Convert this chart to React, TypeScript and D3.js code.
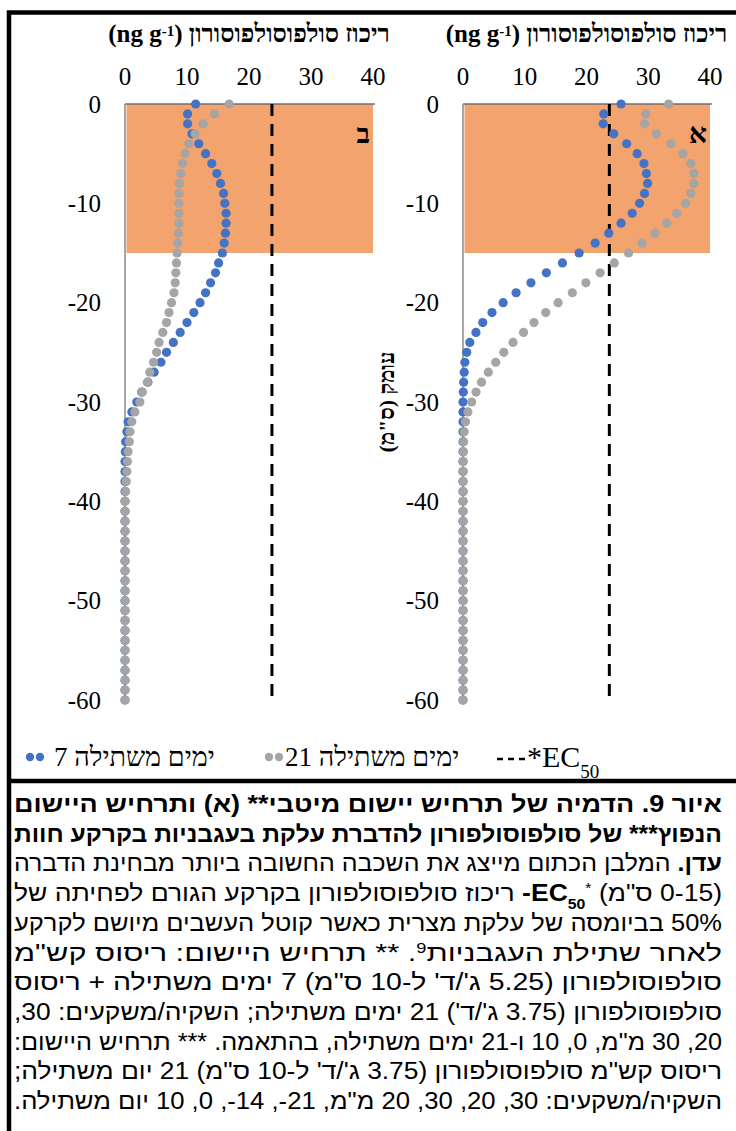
import React, { useEffect, useRef } from 'react';
import * as d3 from 'd3';

// depth below the soil surface (cm)
const depth = [
  0, -1, -2, -3, -4, -5, -6, -7, -8, -9, -10, -11, -12, -13, -14, -15, -16, -17, -18, -19, -20,
  -21, -22, -23, -24, -25, -26, -27, -28, -29, -30, -31, -32, -33, -34, -35, -36, -37, -38, -39, -40,
  -41, -42, -43, -44, -45, -46, -47, -48, -49, -50, -51, -52, -53, -54, -55, -56, -57, -58, -59, -60,
];

// panel א (optimal scenario), ng/g
const optimal7 = [
  25.6, 22.8, 22.7, 24.4, 26.5, 28.2, 29.3, 29.7, 29.9, 29.4, 28.6, 27.4, 25.6, 23.6, 21.4, 18.8,
  16.1, 13.5, 11.0, 8.6, 6.5, 4.7, 3.2, 2.1, 1.1, 0.6, 0.3, 0.2, 0.1, 0.05, 0,
  0, 0, 0, 0, 0, 0, 0, 0, 0, 0, 0, 0, 0, 0, 0, 0, 0, 0, 0, 0, 0, 0, 0, 0, 0, 0, 0, 0, 0, 0,
];
const optimal21 = [
  33.3, 29.6, 29.4, 31.3, 33.7, 35.6, 36.9, 37.4, 37.4, 36.9, 36.0, 34.6, 33.0, 31.1, 29.0, 26.8,
  24.5, 22.2, 19.9, 17.7, 15.4, 13.4, 11.5, 9.8, 8.1, 6.6, 5.3, 4.1, 3.0, 2.1, 1.4,
  0.8, 0.4, 0.2, 0.1, 0.05, 0, 0, 0, 0, 0, 0, 0, 0, 0, 0, 0, 0, 0, 0, 0, 0, 0, 0, 0, 0, 0, 0, 0, 0, 0,
];

// panel ב (common scenario), ng/g
const common7 = [
  11.4, 10.1, 10.1, 10.8, 11.9, 13.0, 14.0, 14.8, 15.4, 15.9, 16.1, 16.3, 16.3, 16.2, 16.0, 15.7,
  15.1, 14.6, 13.8, 13.0, 12.1, 11.1, 10.0, 8.9, 7.8, 6.7, 5.8, 4.7, 3.7, 2.7, 1.9,
  1.1, 0.5, 0.3, 0.1, 0.05, 0, 0, 0, 0, 0, 0, 0, 0, 0, 0, 0, 0, 0, 0, 0, 0, 0, 0, 0, 0, 0, 0, 0, 0, 0,
];
const common21 = [
  16.8, 14.4, 12.6, 11.3, 10.3, 9.7, 9.3, 9.0, 8.8, 8.7, 8.7, 8.7, 8.7, 8.6, 8.5, 8.4,
  8.3, 8.2, 8.1, 7.9, 7.5, 7.1, 6.7, 6.1, 5.5, 5.1, 4.6, 4.0, 3.6, 2.8, 2.4,
  1.6, 1.1, 0.8, 0.7, 0.5, 0.4, 0.3, 0.2, 0.1, 0, 0, 0, 0, 0, 0, 0, 0, 0, 0, 0, 0, 0, 0, 0, 0, 0, 0, 0, 0, 0,
];

const concTicks = [0, 10, 20, 30, 40];
const depthTicks = [0, -10, -20, -30, -40, -50, -60];
const ec50 = 23.7;
const criticalLayer = [0, -15];

const axisTitle = 'ריכוז סולפוסולפוסורון ';
const axisUnit = '(ng g';
const depthTitle = 'עומק (ס"מ)';
const seriesNames = ['7 ימים משתילה', '21 ימים משתילה'];
const panelLetters = ['ב', 'א'];

const captionLines = [
  [{ t: 'איור 9. הדמיה של תרחיש יישום מיטבי** (א) ותרחיש היישום', b: true }],
  [{ t: 'הנפוץ*** של סולפוסולפורון להדברת עלקת בעגבניות בקרקע חוות', b: true }],
  [{ t: 'עדן.', b: true }, { t: ' המלבן הכתום מייצג את השכבה החשובה ביותר מבחינת הדברה' }],
  [
    { t: '(0-15 ס"מ) ' }, { t: '*', sup: true }, { t: 'EC', b: true }, { t: '50', b: true, sub: true },
    { t: '-', b: true }, { t: ' ריכוז סולפוסולפורון בקרקע הגורם לפחיתה של' },
  ],
  [{ t: '50% בביומסה של עלקת מצרית כאשר קוטל העשבים מיושם לקרקע' }],
  [{ t: 'לאחר שתילת העגבניות' }, { t: '9', sup: true }, { t: '. ** תרחיש היישום: ריסוס קש"מ' }],
  [{ t: 'סולפוסולפורון (5.25 ג\'/ד\' ל-10 ס"מ) 7 ימים משתילה + ריסוס' }],
  [{ t: 'סולפוסולפורון (3.75 ג\'/ד\') 21 ימים משתילה; השקיה/משקעים: 30,' }],
  [{ t: '20, 30 מ"מ, 0, 10 ו-21 ימים משתילה, בהתאמה. *** תרחיש היישום:' }],
  [{ t: 'ריסוס קש"מ סולפוסולפורון (3.75 ג\'/ד\' ל-10 ס"מ) 21 יום משתילה;' }],
  [{ t: 'השקיה/משקעים: 30, 20, 30, 20 מ"מ, 21-, 14-, 0, 10 יום משתילה.' }],
];

export default function App() {
  const ref = useRef<SVGSVGElement>(null);

  useEffect(() => {
    const serif = '"Liberation Serif", "Times New Roman", serif';
    const sans = '"Liberation Sans", Arial, sans-serif';
    const blue = '#4472C4';
    const gray = '#A5A5A5';
    const orange = '#F2A36E';

    const svg = d3.select(ref.current);
    svg.selectAll('*').remove();

    // FRAME
    svg.append('rect')
      .attr('x', 9).attr('y', 12.5)
      .attr('width', 760).attr('height', 1140)
      .attr('fill', 'none').attr('stroke', '#000').attr('stroke-width', 4.5);
    svg.append('line')
      .attr('x1', 9).attr('x2', 760).attr('y1', 781).attr('y2', 781)
      .attr('stroke', '#000').attr('stroke-width', 4.5);

    // SCALES
    const y = d3.scaleLinear().domain([-60, 0]).range([700, 104]);

    const panels = [
      { range: [125, 373], s7: common7, s21: common21, letter: panelLetters[0] },
      { range: [463, 710], s7: optimal7, s21: optimal21, letter: panelLetters[1] },
    ];

    panels.forEach(p => {
      const x = d3.scaleLinear().domain([0, 40]).range(p.range);
      const g = svg.append('g');

      // critical soil layer
      g.append('rect')
        .attr('x', x(0) + 1.5).attr('y', y(criticalLayer[0]))
        .attr('width', x(40) - x(0) - 1.5)
        .attr('height', y(criticalLayer[1]) - y(criticalLayer[0]))
        .attr('fill', orange);

      // axis lines
      g.append('line')
        .attr('x1', x(0)).attr('x2', x(40) + 2).attr('y1', y(0)).attr('y2', y(0))
        .attr('stroke', '#6f6f6f').attr('stroke-width', 1.5);
      g.append('line')
        .attr('x1', x(0)).attr('x2', x(0)).attr('y1', y(0)).attr('y2', y(-60))
        .attr('stroke', '#8a8a8a').attr('stroke-width', 1.5);

      // tick labels
      g.selectAll('.xt').data(concTicks).enter().append('text')
        .attr('x', d => x(d)).attr('y', 85)
        .attr('text-anchor', 'middle')
        .style('font-family', serif).style('font-size', '25px')
        .text(d => d);
      g.selectAll('.yt').data(depthTicks).enter().append('text')
        .attr('x', x(0) - 24).attr('y', d => y(d))
        .attr('text-anchor', 'end').attr('dominant-baseline', 'central')
        .style('font-family', serif).style('font-size', '25px')
        .text(d => d);

      // EC50 reference line
      g.append('line')
        .attr('x1', x(ec50)).attr('x2', x(ec50)).attr('y1', y(0)).attr('y2', y(-60))
        .attr('stroke', '#000').attr('stroke-width', 3).attr('stroke-dasharray', '12,8');

      // series dots
      [{ v: p.s7, c: blue }, { v: p.s21, c: gray }].forEach(s => {
        g.selectAll(null).data(depth).enter().append('circle')
          .attr('cx', (d, i) => x(s.v[i]))
          .attr('cy', d => y(d))
          .attr('r', 4.6)
          .attr('fill', s.c);
      });

      // panel title
      const title = g.append('text')
        .attr('x', (x(0) + x(40)) / 2).attr('y', 42)
        .attr('text-anchor', 'middle').attr('direction', 'rtl')
        .style('font-family', serif).style('font-size', '25px').style('font-weight', 'bold');
      title.append('tspan').text(axisTitle);
      title.append('tspan').text(axisUnit);
      title.append('tspan').attr('baseline-shift', '40%').style('font-size', '15px').text('-1');
      title.append('tspan').text(')');

      // panel letter
      g.append('text')
        .attr('x', x(40) - 3).attr('y', 143)
        .attr('text-anchor', 'end')
        .style('font-family', serif).style('font-size', '28px').style('font-weight', 'bold')
        .text(p.letter);
    });

    // depth axis title
    svg.append('text')
      .attr('transform', 'translate(386,402) rotate(-90)')
      .attr('text-anchor', 'middle').attr('direction', 'rtl').attr('dominant-baseline', 'central')
      .style('font-family', serif).style('font-size', '22px').style('font-weight', 'bold')
      .text(depthTitle);

    // LEGEND
    const legendY = 757;
    [[30, 40, blue, 54], [269, 279, gray, 285]].forEach(([a, b, c, tx], i) => {
      svg.append('circle').attr('cx', a).attr('cy', legendY).attr('r', 4.2).attr('fill', c);
      svg.append('circle').attr('cx', b).attr('cy', legendY).attr('r', 4.2).attr('fill', c);
      svg.append('text')
        .attr('x', tx).attr('y', legendY + 9)
        .style('font-family', serif).style('font-size', '27px')
        .text(seriesNames[i]);
    });
    svg.append('line')
      .attr('x1', 497).attr('x2', 526).attr('y1', legendY + 2).attr('y2', legendY + 2)
      .attr('stroke', '#000').attr('stroke-width', 2.5).attr('stroke-dasharray', '6,5');
    const ecText = svg.append('text')
      .attr('x', 527).attr('y', legendY + 10)
      .style('font-family', serif).style('font-size', '30px');
    ecText.append('tspan').text('*EC');
    ecText.append('tspan').attr('baseline-shift', 'sub').style('font-size', '19px').text('50');

    // CAPTION
    captionLines.forEach((line, i) => {
      const t = svg.append('text')
        .attr('x', 722).attr('y', 812 + i * 29.7)
        .attr('direction', 'rtl').attr('text-anchor', 'start')
        .attr('textLength', 708).attr('lengthAdjust', 'spacingAndGlyphs')
        .style('font-family', sans).style('font-size', '23.5px');
      line.forEach((seg: any) => {
        const ts = t.append('tspan').text(seg.t);
        if (seg.b) ts.style('font-weight', 'bold');
        if (seg.sup) ts.attr('baseline-shift', 'super').style('font-size', '14px');
        if (seg.sub) ts.attr('baseline-shift', 'sub').style('font-size', '14px');
      });
    });
  }, []);

  return (
    <svg
      ref={ref}
      width={736}
      height={1131}
      style={{ position: 'absolute', left: 0, top: 0, background: '#fff' }}
    />
  );
}
